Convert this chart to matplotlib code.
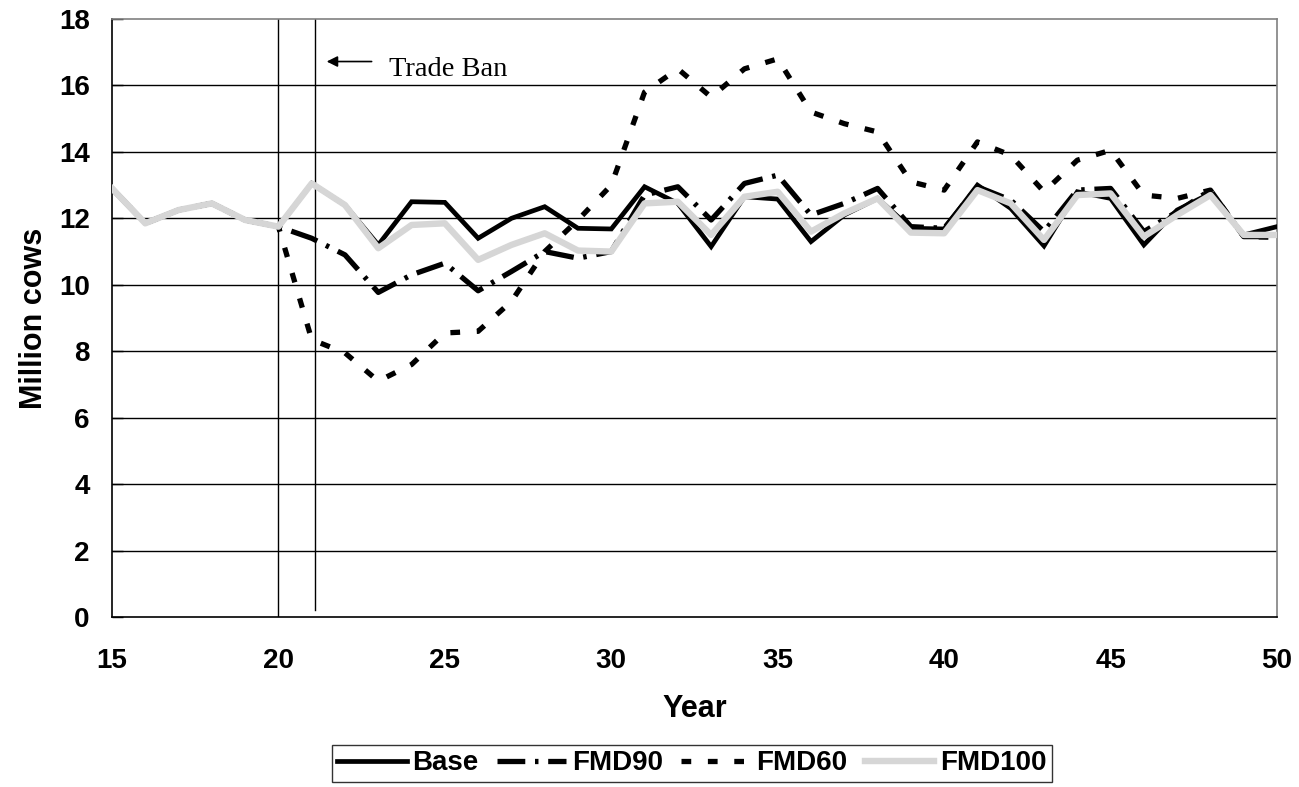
import matplotlib
matplotlib.use("Agg")
import matplotlib.pyplot as plt

plt.rcParams['font.family'] = ['Liberation Sans', 'DejaVu Sans']
plt.rcParams['lines.scale_dashes'] = False

years = list(range(15, 51))

base = [12.9, 11.85, 12.25, 12.45, 11.95, 11.75, 13.05, 12.4, 11.2, 12.5,
        12.48, 11.4, 12.0, 12.35, 11.7, 11.68, 12.95, 12.45, 11.15, 12.65,
        12.58, 11.3, 12.1, 12.6, 11.7, 11.68, 13.0, 12.3, 11.17, 12.8,
        12.6, 11.2, 12.25, 12.75, 11.5, 11.75]

fmd90 = [12.9, 11.85, 12.25, 12.45, 11.95, 11.75, 11.4, 10.9, 9.77, 10.3,
         10.65, 9.82, 10.4, 11.0, 10.8, 11.0, 12.7, 12.95, 11.95, 13.05,
         13.3, 12.1, 12.45, 12.9, 11.75, 11.7, 12.95, 12.55, 11.6, 12.85,
         12.9, 11.6, 12.2, 12.85, 11.45, 11.45]

fmd60 = [12.9, 11.85, 12.25, 12.45, 11.95, 11.75, 8.35, 7.95, 7.1, 7.6,
         8.55, 8.6, 9.5, 11.0, 11.95, 13.0, 15.8, 16.5, 15.65, 16.5,
         16.8, 15.2, 14.85, 14.6, 13.1, 12.85, 14.3, 13.9, 12.8, 13.75,
         14.05, 12.7, 12.6, 12.85, 11.45, 11.43]

fmd100 = [12.9, 11.85, 12.25, 12.45, 11.95, 11.75, 13.05, 12.4, 11.1, 11.8,
          11.85, 10.75, 11.2, 11.55, 11.03, 11.0, 12.45, 12.5, 11.5, 12.65,
          12.8, 11.6, 12.15, 12.6, 11.57, 11.55, 12.85, 12.45, 11.35, 12.7,
          12.75, 11.45, 12.1, 12.7, 11.5, 11.5]

ban_start = 20
ban_end = 21.1

fig = plt.figure(figsize=(12.99, 7.87), dpi=100)
ax = fig.add_axes([112 / 1299, 1 - 617 / 787, (1277 - 112) / 1299, (617 - 19) / 787])

# horizontal gridlines
for v in range(2, 18, 2):
    ax.axhline(v, color='black', lw=1.0, zorder=1)

# trade ban markers
ax.plot([ban_start, ban_start], [0, 18], color='black', lw=1.0, zorder=1)
ax.plot([ban_end, ban_end], [0.2, 18], color='black', lw=1.0, zorder=1)

ax.plot(years, base, color='black', lw=3.4, label='Base', zorder=3,
        solid_joinstyle='miter')
ax.plot(years, fmd90, color='black', lw=3.8, label='FMD90', zorder=4,
        dashes=(20, 7, 2.5, 7))
ax.plot(years, fmd60, color='black', lw=3.8, label='FMD60', zorder=5,
        dashes=(7, 12))
ax.plot(years, fmd100, color='#d6d6d6', lw=4.6, label='FMD100', zorder=6)

ax.annotate('', xy=(21.45, 16.72), xytext=(22.8, 16.72),
            arrowprops=dict(arrowstyle='-|>', color='black', lw=1.2,
                            mutation_scale=16, shrinkA=0, shrinkB=0))
ax.text(23.33, 16.47, 'Trade Ban', fontsize=20.5, va='center', ha='left',
        family=['Liberation Serif', 'DejaVu Serif'])

ax.set_xlim(15, 50)
ax.set_ylim(0, 18)
ax.set_xticks(range(15, 51, 5))
ax.set_yticks(range(0, 19, 2))
ax.tick_params(axis='y', direction='in', length=8, width=1, pad=16,
               labelsize=20)
ax.tick_params(axis='x', length=0, pad=22, labelsize=20)
for lab in ax.get_xticklabels() + ax.get_yticklabels():
    lab.set_fontweight('bold')

for side in ['top', 'right']:
    ax.spines[side].set_color('#808080')
    ax.spines[side].set_linewidth(1.2)
for side in ['left', 'bottom']:
    ax.spines[side].set_color('black')
    ax.spines[side].set_linewidth(1.2)

ax.set_xlabel('Year', fontsize=22, fontweight='bold', labelpad=15)
ax.set_ylabel('Million cows', fontsize=22, fontweight='bold', labelpad=7)

handles, labels = ax.get_legend_handles_labels()
leg = fig.legend(handles, labels, loc='center', ncol=4,
                 bbox_to_anchor=(692 / 1299, 1 - 763.5 / 787),
                 prop={'size': 20, 'weight': 'bold'}, frameon=True,
                 fancybox=False, edgecolor='black', handlelength=2.5,
                 handletextpad=0.2, columnspacing=0.65, borderpad=0.2,
                 borderaxespad=0)
leg.get_frame().set_linewidth(1.0)

fig.savefig('out.png', dpi=100)
